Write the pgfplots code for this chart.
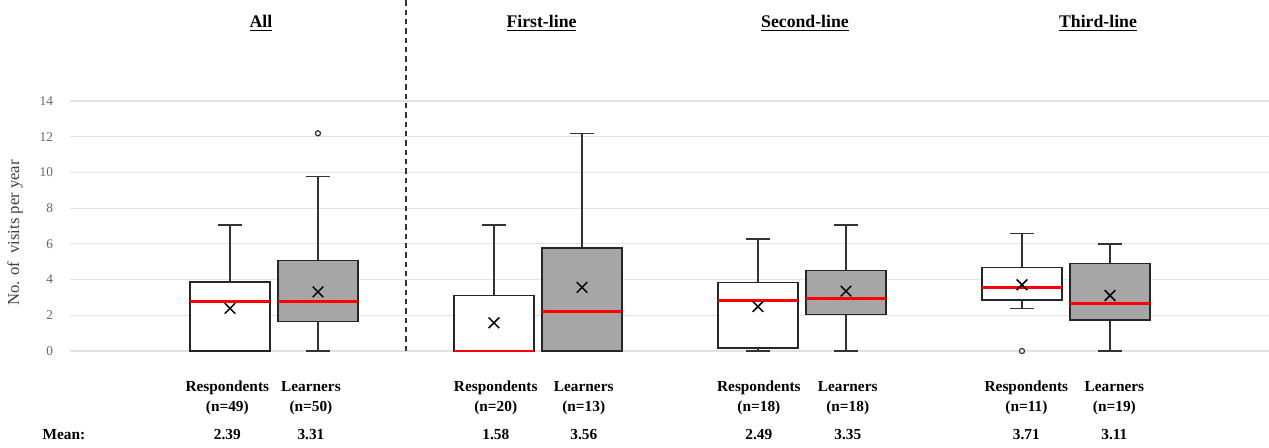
\documentclass[border=0pt]{standalone}
\usepackage{pgfplots}
\pgfplotsset{compat=1.18}
\usepgfplotslibrary{statistics}
\usepackage{fontspec}
\setmainfont{Liberation Serif}

\definecolor{boxgray}{RGB}{166,166,166}
\definecolor{gridgray}{RGB}{226,226,226}
\definecolor{medred}{RGB}{255,0,0}

\newcommand{\lblfont}{\fontsize{11.5}{13}\selectfont\bfseries}
\newcommand{\ttlfont}{\fontsize{13.3}{15}\selectfont\bfseries}
\tikzset{lbl/.style={anchor=base, font=\lblfont}}

\begin{document}
\begin{tikzpicture}
\useasboundingbox (-52.5pt,-72pt) rectangle (899.25pt,263.25pt);
\begin{axis}[
  scale only axis, width=899.25pt, height=187.5pt,
  xmin=-0.818, xmax=12.807, ymin=0, ymax=14,
  clip=false,
  axis line style={draw=none},
  xtick=\empty,
  ytick={0,2,...,14},
  ymajorgrids,
  major grid style={draw=gridgray, line width=0.9pt},
  tick style={draw=none},
  /pgf/number format/assume math mode=true,
  yticklabel style={font=\fontsize{10}{12}\selectfont, text=black!60,
                    anchor=east, inner sep=0pt, xshift=-12.5pt},
  boxplot/draw direction=y,
  boxplot/box extend=0.91,
  boxplot/whisker extend=0.27,
  boxplot/every whisker/.style={draw=black!80, line width=1pt},
  boxplot/every median/.style={draw=medred, line width=2pt},
  resp/.style={boxplot/every box/.style={draw=black!85, line width=1.1pt, fill=white}},
  learn/.style={boxplot/every box/.style={draw=black!85, line width=1.1pt, fill=boxgray}},
  outl/.style={mark=*, mark size=1.9pt,
               mark options={draw=black!80, fill=white, line width=0.9pt}},
]

% All
\addplot[resp, boxplot prepared={draw position=1, lower whisker=0, lower quartile=0,
  median=2.76, upper quartile=3.86, upper whisker=7.05}] coordinates {};
\addplot[learn, outl, boxplot prepared={draw position=2, lower whisker=0, lower quartile=1.64,
  median=2.78, upper quartile=5.06, upper whisker=9.76}]
  table[row sep=\\, y index=0] {v\\ 12.19\\};

% First-line
\addplot[resp, boxplot prepared={draw position=4, lower whisker=0, lower quartile=0,
  median=0, upper quartile=3.10, upper whisker=7.05}] coordinates {};
\addplot[learn, boxplot prepared={draw position=5, lower whisker=0, lower quartile=0,
  median=2.20, upper quartile=5.78, upper whisker=12.19}] coordinates {};

% Second-line
\addplot[resp, boxplot prepared={draw position=7, lower whisker=0, lower quartile=0.17,
  median=2.84, upper quartile=3.84, upper whisker=6.27}] coordinates {};
\addplot[learn, boxplot prepared={draw position=8, lower whisker=0, lower quartile=2.03,
  median=2.93, upper quartile=4.52, upper whisker=7.05}] coordinates {};

% Third-line
\addplot[resp, outl, boxplot prepared={draw position=10, lower whisker=2.39, lower quartile=2.86,
  median=3.57, upper quartile=4.69, upper whisker=6.59}]
  table[row sep=\\, y index=0] {v\\ 0\\};
\addplot[learn, boxplot prepared={draw position=11, lower whisker=0, lower quartile=1.74,
  median=2.65, upper quartile=4.91, upper whisker=5.99}] coordinates {};

% group means
\addplot[only marks, mark=x, mark size=5.6pt, draw=black, line width=1.1pt]
  coordinates {(1,2.39) (2,3.31) (4,1.58) (5,3.56) (7,2.49) (8,3.35) (10,3.71) (11,3.11)};

% separator between the overall group and the lines of treatment
\addplot[draw=black!80, line width=1.2pt, dash pattern=on 4pt off 3pt]
  coordinates {(3,0) (3,19.66)};

% group titles
\node[anchor=base, font=\ttlfont] at (axis cs:1.352,18.09) {\underline{All}};
\node[anchor=base, font=\ttlfont] at (axis cs:4.54,18.09) {\underline{First-line}};
\node[anchor=base, font=\ttlfont] at (axis cs:7.534,18.09) {\underline{Second-line}};
\node[anchor=base, font=\ttlfont] at (axis cs:10.864,18.09) {\underline{Third-line}};

% y axis title
\node[rotate=90, font=\fontsize{12.5}{14}\selectfont, text=black!75]
  at (axis cs:-1.443,6.61) {No. of\ \ visits per year};

% category labels and sample sizes
\node[lbl] at (axis cs:0.97,-2.24) {Respondents};
\node[lbl] at (axis cs:0.97,-3.36) {(n=49)};
\node[lbl] at (axis cs:1.92,-2.24) {Learners};
\node[lbl] at (axis cs:1.92,-3.36) {(n=50)};
\node[lbl] at (axis cs:4.02,-2.24) {Respondents};
\node[lbl] at (axis cs:4.02,-3.36) {(n=20)};
\node[lbl] at (axis cs:5.02,-2.24) {Learners};
\node[lbl] at (axis cs:5.02,-3.36) {(n=13)};
\node[lbl] at (axis cs:7.01,-2.24) {Respondents};
\node[lbl] at (axis cs:7.01,-3.36) {(n=18)};
\node[lbl] at (axis cs:8.02,-2.24) {Learners};
\node[lbl] at (axis cs:8.02,-3.36) {(n=18)};
\node[lbl] at (axis cs:10.05,-2.24) {Respondents};
\node[lbl] at (axis cs:10.05,-3.36) {(n=11)};
\node[lbl] at (axis cs:11.05,-2.24) {Learners};
\node[lbl] at (axis cs:11.05,-3.36) {(n=19)};

% means
\node[anchor=base west, font=\lblfont] at (axis cs:-1.182,-4.93) {Mean:};
\node[lbl] at (axis cs:0.97,-4.93) {2.39};
\node[lbl] at (axis cs:1.92,-4.93) {3.31};
\node[lbl] at (axis cs:4.02,-4.93) {1.58};
\node[lbl] at (axis cs:5.02,-4.93) {3.56};
\node[lbl] at (axis cs:7.01,-4.93) {2.49};
\node[lbl] at (axis cs:8.02,-4.93) {3.35};
\node[lbl] at (axis cs:10.05,-4.93) {3.71};
\node[lbl] at (axis cs:11.05,-4.93) {3.11};
\end{axis}
\end{tikzpicture}
\end{document}
